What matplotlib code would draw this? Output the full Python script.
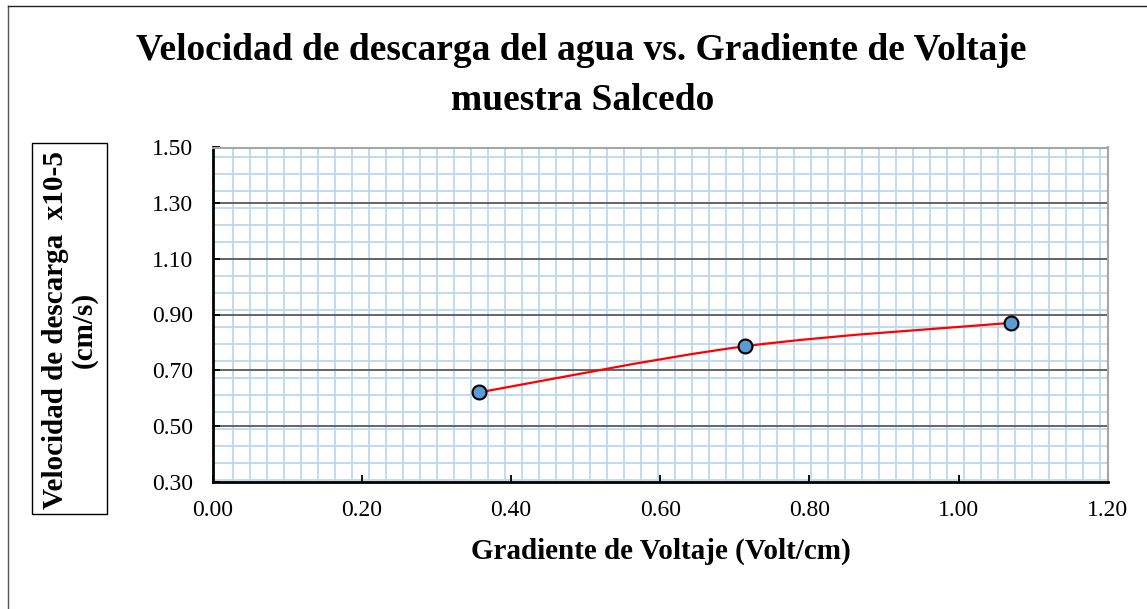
import numpy as np
import matplotlib
matplotlib.use('Agg')
import matplotlib.pyplot as plt
from matplotlib.path import Path
from matplotlib.patches import PathPatch, Rectangle
from matplotlib.lines import Line2D

# data
gradiente = [0.357, 0.714, 1.071]
velocidad = [0.62, 0.786, 0.870]
xticks = [0.00, 0.20, 0.40, 0.60, 0.80, 1.00, 1.20]
yticks = [0.30, 0.50, 0.70, 0.90, 1.10, 1.30, 1.50]

titulo1 = 'Velocidad de descarga del agua vs. Gradiente de Voltaje'
titulo2 = 'muestra Salcedo'
xlab = 'Gradiente de Voltaje (Volt/cm)'
ylab = 'Velocidad de descarga  x10-5\n(cm/s)'

W, H = 1147, 609
serif = ['Liberation Serif', 'DejaVu Serif']
plt.rcParams['font.family'] = serif

fig = plt.figure(figsize=(W / 100, H / 100), dpi=100)

def fx(px): return px / W
def fy(py): return 1 - py / H

# outer chart border (only top/left visible in the crop)
fig.add_artist(Line2D([fx(8), fx(8)], [fy(6), fy(H + 5)], color='#555555', lw=1.0, transform=fig.transFigure))
fig.add_artist(Line2D([fx(8), fx(W + 5)], [fy(6), fy(6)], color='#222222', lw=1.0, transform=fig.transFigure))

ax = fig.add_axes([fx(212.7), fy(481.5), fx(1107.7 - 212.7), (481.5 - 147.5) / H])
ax.set_xlim(0, 1.2)
ax.set_ylim(0.3, 1.5)

# graph-paper background (pattern fill of the plot area, 17 px squares)
sx = 17.01 / (895.0 / 1.2)
sy = 17.01 / (334.0 / 1.2)
for xv in np.arange(0.004 + sx, 1.2, sx):
    ax.axvline(xv, color='#BDD7EE', lw=1.3, zorder=0)
for yv in np.arange(1.5 - 0.0352, 0.3, -sy):
    ax.axhline(yv, color='#BDD7EE', lw=1.3, zorder=0)

# major gridlines
for yv in yticks[1:-1]:
    ax.axhline(yv, color='#595959', lw=1.3, zorder=1)

# smoothed line (Excel-style bezier through the points)
pts = np.column_stack([gradiente, velocidad])
n = len(pts)
verts = [pts[0]]
codes = [Path.MOVETO]
for i in range(n - 1):
    p_prev = pts[i - 1] if i > 0 else pts[i]
    p_next2 = pts[i + 2] if i + 2 < n else pts[i + 1]
    c1 = pts[i] + (pts[i + 1] - p_prev) / 6
    c2 = pts[i + 1] - (p_next2 - pts[i]) / 6
    verts += [c1, c2, pts[i + 1]]
    codes += [Path.CURVE4] * 3
ax.add_patch(PathPatch(Path(verts, codes), facecolor='none', edgecolor='#FF0000', lw=1.6, zorder=3))

ax.plot(gradiente, velocidad, linestyle='none', marker='o', markersize=10,
        markerfacecolor='#5B9BD5', markeredgecolor='black', markeredgewidth=1.5, zorder=4)

ax.set_xticks(xticks)
ax.set_yticks(yticks)
ax.set_xticklabels(['%.2f' % v for v in xticks])
ax.set_yticklabels(['%.2f' % v for v in yticks])
ax.tick_params(axis='both', direction='in', length=5, width=1.3, labelsize=17, colors='black')
ax.tick_params(axis='x', pad=13)
ax.tick_params(axis='y', pad=14)
ax.tick_params(top=False, right=False)

ax.spines['left'].set_color('black')
ax.spines['left'].set_linewidth(2.0)
ax.spines['bottom'].set_color('black')
ax.spines['bottom'].set_linewidth(2.0)
ax.spines['top'].set_color('#A6A6A6')
ax.spines['top'].set_linewidth(1.5)
ax.spines['right'].set_color('#A6A6A6')
ax.spines['right'].set_linewidth(1.5)

# title, two lines
fig.text(fx(581), fy(60), titulo1, ha='center', va='baseline', fontsize=27, fontweight='bold')
fig.text(fx(583), fy(110), titulo2, ha='center', va='baseline', fontsize=27, fontweight='bold')

# x label
fig.text(fx(661), fy(559), xlab, ha='center', va='baseline', fontsize=21, fontweight='bold')

# boxed y label
fig.add_artist(Rectangle((fx(32), fy(514)), fx(107 - 32), (514 - 143) / H,
                         transform=fig.transFigure, facecolor='white', edgecolor='black', lw=1.0))
fig.text(fx(70), fy(330), ylab, ha='center', va='center', rotation=90, fontsize=21,
         fontweight='bold', multialignment='center', linespacing=1.1)

fig.savefig('out.png', dpi=100)
